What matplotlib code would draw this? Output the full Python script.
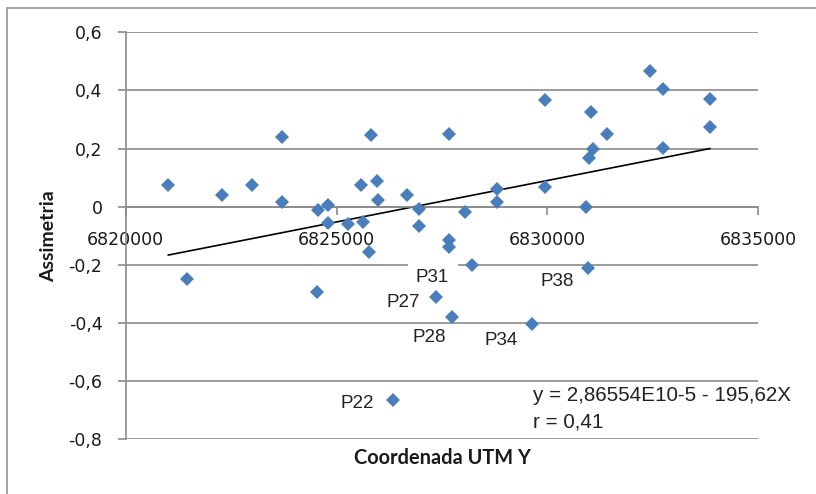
import numpy as np
import matplotlib.pyplot as plt
from matplotlib.patches import Rectangle

# UTM Y coordinate of each sample point and its skewness (assimetria)
utm_y = [6821008, 6821458, 6822274, 6822999, 6823704, 6823715, 6824564, 6824526,
         6824801, 6824801, 6825275, 6825570, 6825631, 6825778, 6825821, 6825949,
         6825987, 6826660, 6826959, 6826952, 6827670, 6827670, 6827670, 6827355,
         6827727, 6828042, 6828201, 6828794, 6828794, 6829624, 6829939, 6829939,
         6830911, 6830990, 6831023, 6831084, 6831402, 6830952, 6832429, 6832730,
         6832730, 6833851, 6833851, 6826342]
assimetria = [0.075, -0.247, 0.040, 0.076, 0.240, 0.016, -0.012, -0.294,
              0.006, -0.056, -0.061, 0.076, -0.053, -0.155, 0.246, 0.087,
              0.024, 0.041, -0.009, -0.065, 0.251, -0.116, -0.140, -0.311,
              -0.380, -0.019, -0.202, 0.061, 0.016, -0.405, 0.367, 0.068,
              0.000, 0.169, 0.327, 0.198, 0.251, -0.210, 0.467, 0.404,
              0.203, 0.370, 0.274, -0.666]

# labelled points: name, index into the arrays, text offset in pixels
point_names = ["P31", "P27", "P28", "P34", "P38", "P22"]
point_index = [26, 23, 24, 29, 37, 43]
label_offset = [(-39, -12), (-33, -5), (-22, -20), (-30, -16), (-30, -14), (-36, -3)]

x_ticks = [6820000, 6825000, 6830000, 6835000]
y_ticks = [-0.8, -0.6, -0.4, -0.2, 0, 0.2, 0.4, 0.6]

W, H = 816, 494
fig = plt.figure(figsize=(W / 100, H / 100), dpi=100)
ax = fig.add_axes([125.8 / W, 1 - 439.3 / H, (758.3 - 125.8) / W, (439.3 - 32.3) / H])

grid_c = "#8a8a8a"
blue = "#4a7ebb"

# chart frame (only top and left edges fall inside the image)
fig.patches.append(Rectangle((7 / W, -0.05), 1.2, 1 - 8 / H + 0.05, transform=fig.transFigure,
                             fill=False, edgecolor="#9a9a9a", linewidth=1.3))

ax.set_xlim(6820000, 6835000)
ax.set_ylim(-0.8, 0.6)
for y in y_ticks:
    ax.axhline(y, color=grid_c, linewidth=1.2, zorder=1)

ax.plot(utm_y, assimetria, linestyle="none", marker="D", markersize=7.6,
        color=blue, markeredgewidth=0, zorder=3)

# linear trend over the x-range of the data
x = np.array(utm_y, dtype=float)
yv = np.array(assimetria)
k, b = np.polyfit(x - 6820000, yv, 1)
xs = np.array([x.min(), x.max()])
ax.plot(xs, k * (xs - 6820000) + b, color="black", linewidth=1.2, zorder=2)

for name, i, off in zip(point_names, point_index, label_offset):
    pad = 0.45 if name == "P31" else 0.2
    ax.annotate(name, (utm_y[i], assimetria[i]), xytext=off, textcoords="offset pixels",
                ha="center", va="center", fontsize=13.5, family="Liberation Sans", color="#222222",
                bbox=dict(boxstyle=f"square,pad={pad}", facecolor="white", edgecolor="none"),
                zorder=2.5)

for s in ["top", "right"]:
    ax.spines[s].set_visible(False)
ax.spines["bottom"].set_position(("data", 0))
ax.spines["bottom"].set_color(grid_c)
ax.spines["left"].set_color(grid_c)
ax.spines["left"].set_linewidth(1.2)
ax.spines["bottom"].set_linewidth(1.2)

ax.set_xticks(x_ticks)
ax.set_xticklabels([str(v) for v in x_ticks])
ax.set_yticks(y_ticks)
ax.set_yticklabels(["0" if v == 0 else f"{v:.1f}".replace(".", ",") for v in y_ticks])
ax.tick_params(axis="both", colors=grid_c, labelcolor="#1a1a1a", labelsize=12.5, width=1.2)
ax.tick_params(axis="x", length=5.5, pad=12)
ax.tick_params(axis="y", length=5.8, pad=11)
for lab in ax.get_xticklabels() + ax.get_yticklabels():
    lab.set_family("DejaVu Sans")

fig.text(442 / W, 1 - 458 / H, "Coordenada UTM Y", ha="center", va="center",
         fontsize=14.4, fontweight="bold", family="Lato", color="#1a1a1a")
fig.text(49 / W, 1 - 236 / H, "Assimetria", ha="center", va="center", rotation=90,
         fontsize=14, fontweight="bold", family="Lato", color="#1a1a1a")

fig.text(533 / W, 1 - 395 / H, "y = 2,86554E10-5 - 195,62X", ha="left", va="center",
         fontsize=14.9, family="Liberation Sans", color="#222222")
fig.text(533 / W, 1 - 421.5 / H, "r = 0,41", ha="left", va="center",
         fontsize=14.9, family="Liberation Sans", color="#222222")

fig.savefig("out.png", dpi=100)
